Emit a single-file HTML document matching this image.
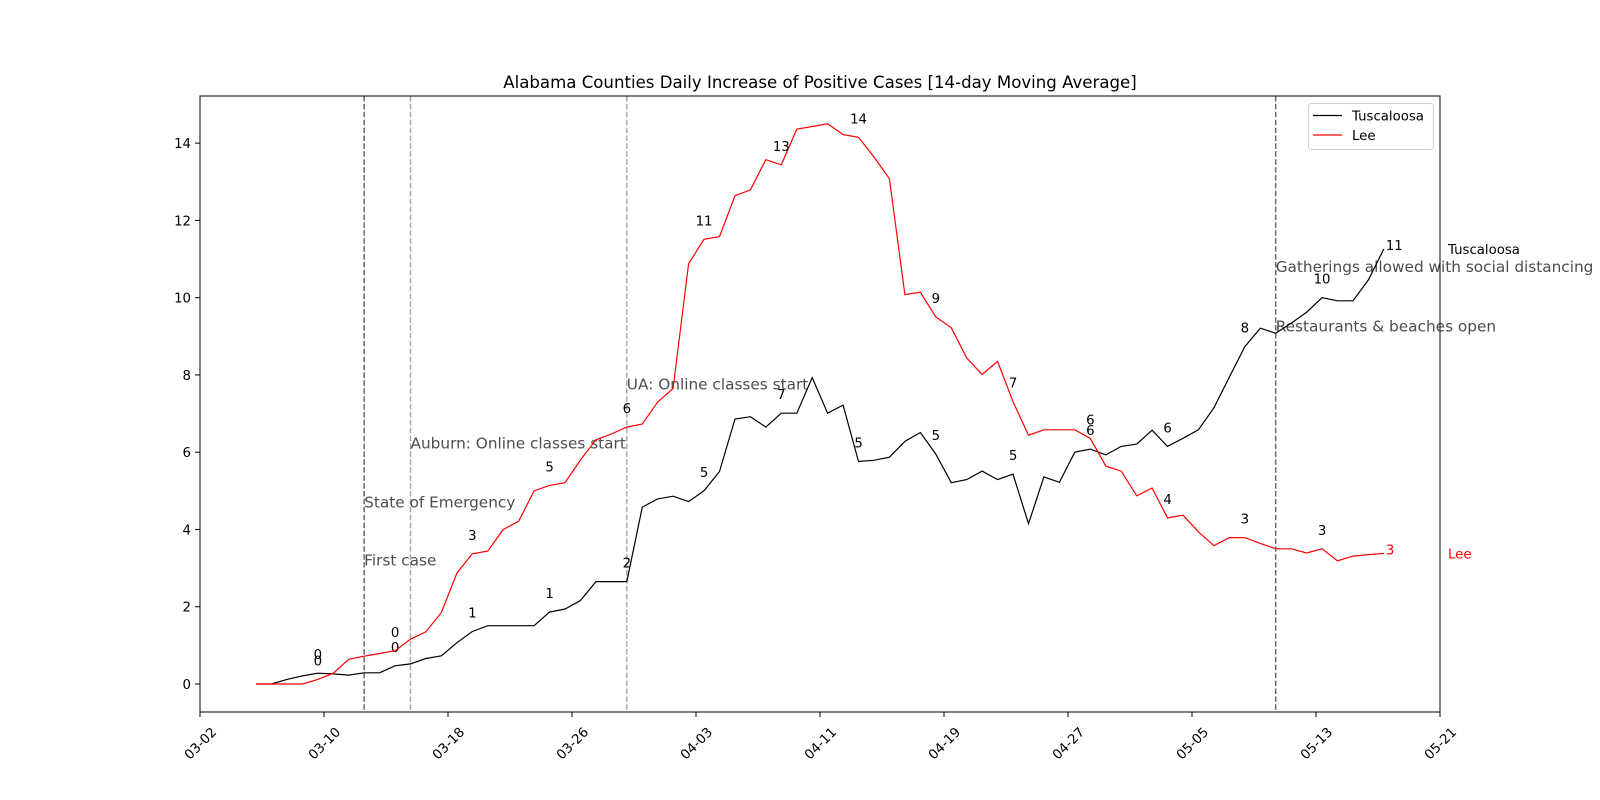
<!DOCTYPE html>
<html><head><meta charset="utf-8"><style>
html,body{margin:0;padding:0;background:#fff;}
svg{display:block;font-family:"DejaVu Sans","Liberation Sans",sans-serif;}
</style></head><body>
<svg id="chart" width="1600" height="800" viewBox="0 0 1600 800">
<rect x="0" y="0" width="1600" height="800" fill="#fff"/>
<text x="820" y="88" text-anchor="middle" font-size="16.6">Alabama Counties Daily Increase of Positive Cases [14-day Moving Average]</text>
<g id="plot"></g>
</svg>
<script>
const tuscaloosa = [0,0,0.12,0.21,0.28,0.26,0.23,0.29,0.29,0.47,0.52,0.66,0.73,1.07,1.36,1.51,1.51,1.51,1.51,1.86,1.94,2.16,2.65,2.65,2.65,4.58,4.79,4.86,4.72,5.0,5.5,6.86,6.92,6.65,7.01,7.01,7.93,7.01,7.22,5.76,5.79,5.87,6.28,6.51,5.95,5.21,5.29,5.51,5.29,5.43,4.15,5.36,5.22,6.0,6.08,5.93,6.15,6.21,6.57,6.15,6.36,6.58,7.15,7.94,8.73,9.21,9.08,9.34,9.62,10.0,9.92,9.92,10.46,11.26];
const lee = [0,0,0,0,0.12,0.28,0.64,0.72,0.79,0.86,1.16,1.35,1.85,2.87,3.37,3.44,4.0,4.21,5.0,5.14,5.21,5.8,6.32,6.47,6.65,6.73,7.3,7.65,10.88,11.51,11.58,12.64,12.79,13.57,13.44,14.36,14.43,14.5,14.22,14.15,13.64,13.08,10.08,10.14,9.5,9.22,8.44,8.01,8.35,7.31,6.44,6.58,6.58,6.58,6.36,5.64,5.51,4.87,5.07,4.3,4.37,3.94,3.58,3.79,3.79,3.64,3.5,3.5,3.39,3.5,3.19,3.31,3.35,3.38];
const xTickLabels = ["03-02","03-10","03-18","03-26","04-03","04-11","04-19","04-27","05-05","05-13","05-21"];
const yTicks = [0,2,4,6,8,10,12,14];
const events = ["First case","State of Emergency","Auburn: Online classes start","UA: Online classes start","Restaurants & beaches open","Gatherings allowed with social distancing"];
const eventIdx = [7,7,10,24,66,66];
const eventTextY = [3.2,4.7,6.22,7.75,9.25,10.8];
const labelEvery = 5;

const NS="http://www.w3.org/2000/svg";
const L=200,R=1440,T=96,B=712;
const yMin=-0.725,yMax=15.22;
function xS(i){return 256+i*15.45;}
function yS(v){return B-(v-yMin)/(yMax-yMin)*(B-T);}
function tickX(k){return L+k*(R-L)/(xTickLabels.length-1);}
const g=document.getElementById('plot');
function mk(tag,attrs,parent){const e=document.createElementNS(NS,tag);for(const k in attrs)e.setAttribute(k,attrs[k]);(parent||g).appendChild(e);return e;}

const evCount={};
eventIdx.forEach(i=>{evCount[i]=(evCount[i]||0)+1;});
Object.keys(evCount).forEach(k=>{
  const x=xS(+k);
  const ln=mk('line',{x1:x,x2:x,y1:T,y2:B,stroke:evCount[k]>1?'#6a6a6a':'#a8a8a8','stroke-width':1.5,'stroke-dasharray':'5.5,2.4'});
  
  
});
events.forEach((t,j)=>{
  const tx=mk('text',{x:xS(eventIdx[j]),y:yS(eventTextY[j])+5,'font-size':15.3,fill:'#4d4d4d'});
  tx.textContent=t;
  
  
});

function series(data,color,name){
  const pts=data.map((v,i)=>xS(i).toFixed(1)+','+yS(v).toFixed(1)).join(' ');
  const pl=mk('polyline',{points:pts,fill:'none',stroke:color,'stroke-width':1.2,'stroke-linejoin':'miter'});
  
  
  for(let i=4;i<data.length-1;i+=labelEvery){
    const t=mk('text',{x:xS(i),y:yS(data[i])-14,'text-anchor':'middle','font-size':13.3,fill:'#000'});
    t.textContent=Math.floor(data[i]);
    
    
  }
  const n=data.length-1;
  const t=mk('text',{x:xS(n)+2,y:yS(data[n])+1,'font-size':13.3,fill:color});
  t.textContent=Math.floor(data[n]);
  
  
  const nm=mk('text',{x:1448,y:yS(data[n])+5,'font-size':13.3,fill:color});
  nm.textContent=name==='tuscaloosa'?'Tuscaloosa':'Lee';
  
  
}
series(tuscaloosa,'#000','tuscaloosa');
series(lee,'#ff0000','lee');

const fr=mk('rect',{x:L,y:T,width:R-L,height:B-T,fill:'none',stroke:'#000','stroke-width':1});



yTicks.forEach(v=>{
  const y=yS(v);
  const tk=mk('line',{x1:L-5,x2:L,y1:y,y2:y,stroke:'#000','stroke-width':1});
  
  
  const t=mk('text',{x:L-9,y:y+5,'text-anchor':'end','font-size':13.3});
  t.textContent=v;
  
  
});
xTickLabels.forEach((lab,k)=>{
  const x=tickX(k);
  const tk=mk('line',{x1:x,x2:x,y1:B,y2:B+5,stroke:'#000','stroke-width':1});
  
  
  const t=mk('text',{x:x,y:748,'text-anchor':'middle','font-size':13.3,transform:`rotate(-45 ${x} 743)`});
  t.textContent=lab;
  
  
});

const lg=mk('g',{});


mk('rect',{x:1308.5,y:103.5,width:125,height:46,rx:3,fill:'#fff',stroke:'#d0d0d0','stroke-width':1},lg);
[['Tuscaloosa','#000',115.5],['Lee','#ff0000',135]].forEach(([n,c,y])=>{
  const e=mk('g',{},lg);
  
  
  mk('line',{x1:1313,x2:1342,y1:y,y2:y,stroke:c,'stroke-width':1.2},e);
  const t=mk('text',{x:1352,y:y+5,'font-size':13.3},e);
  t.textContent=n;
});
</script>
</body></html>
